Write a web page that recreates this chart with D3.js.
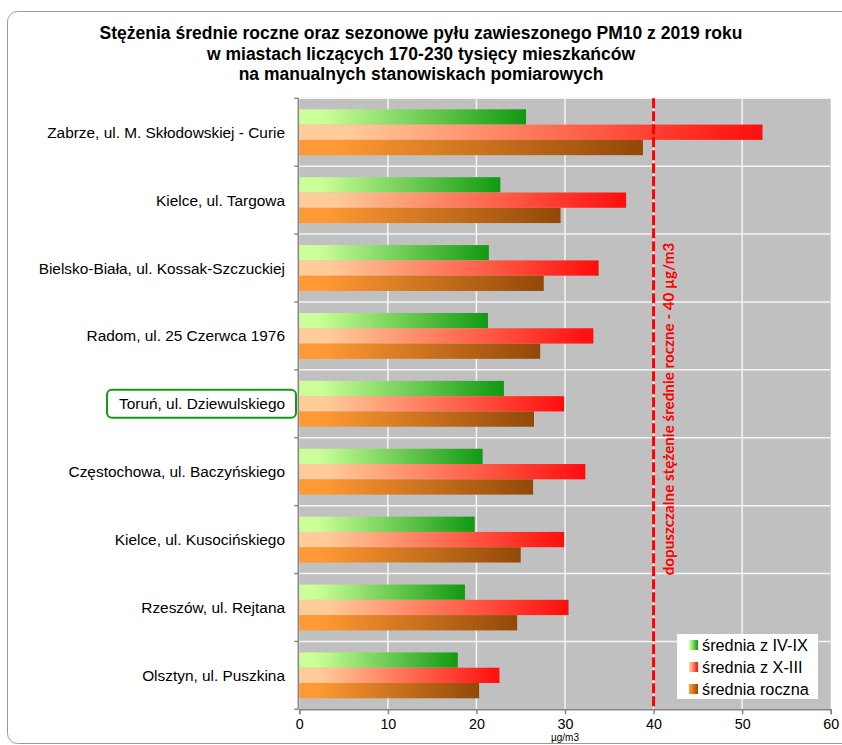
<!DOCTYPE html>
<html><head><meta charset="utf-8">
<script src="https://cdn.jsdelivr.net/npm/d3@7"></script>
<style>body{margin:0;background:#fff}svg{display:block}</style>
</head><body>
<svg id="c" width="842" height="745"></svg>
<script>
const categories = ["Zabrze, ul. M. Skłodowskiej - Curie","Kielce, ul. Targowa","Bielsko-Biała, ul. Kossak-Szczuckiej","Radom, ul. 25 Czerwca 1976","Toruń, ul. Dziewulskiego","Częstochowa, ul. Baczyńskiego","Kielce, ul. Kusocińskiego","Rzeszów, ul. Rejtana","Olsztyn, ul. Puszkina"];
const seriesNames = ["średnia z IV-IX","średnia z X-III","średnia roczna"];
const summerAvg = [25.6, 22.7, 21.4, 21.3, 23.1, 20.7, 19.8, 18.7, 17.9];
const winterAvg = [52.3, 36.9, 33.8, 33.2, 29.9, 32.3, 29.9, 30.4, 22.6];
const annualAvg = [38.8, 29.5, 27.6, 27.2, 26.5, 26.4, 25.0, 24.6, 20.3];
const xTicks = [0, 10, 20, 30, 40, 50, 60];
const limitValue = 40;
const highlighted = "Toruń, ul. Dziewulskiego";
const titleLines = ["Stężenia średnie roczne oraz sezonowe pyłu zawieszonego PM10 z 2019 roku","w miastach liczących 170-230 tysięcy mieszkańców","na manualnych stanowiskach pomiarowych"];
const limitLabel = "dopuszczalne stężenie średnie roczne - 40 µg/m3";
const axisTitle = "µg/m3";

const svg = d3.select("#c");
const font = "'Liberation Sans', Arial, sans-serif";
const L = 299.3, R = 830.7, T = 98.3, B = 709.3;

// outer frame
svg.append("rect").attr("x",7.5).attr("y",11.5).attr("width",900).attr("height",732)
  .attr("rx",10).attr("fill","#fff").attr("stroke","#9a9a9a").attr("stroke-width",1);

const x = d3.scaleLinear().domain([0,60]).range([L,R]);
const y0 = d3.scaleBand().domain(categories).range([T,B]).padding(0);
const y1 = d3.scaleBand().domain(seriesNames).range([0,y0.bandwidth()]).paddingInner(0).paddingOuter(0.72);

const gradStops = [
  ["#ccff99","#119911"],
  ["#ffcc99","#ff0d0d"],
  ["#ff9933","#924808"]
];
const defs = svg.append("defs");
gradStops.forEach((g,i)=>{
  const lg = defs.append("linearGradient").attr("id","g"+i).attr("x1","0").attr("x2","1").attr("y1","0").attr("y2","0");
  lg.append("stop").attr("offset","0").attr("stop-color",g[0]);
  lg.append("stop").attr("offset","0.1").attr("stop-color",g[0]);
  lg.append("stop").attr("offset","1").attr("stop-color",g[1]);
});

// plot bg
svg.append("rect").attr("x",L).attr("y",T).attr("width",R-L).attr("height",B-T).attr("fill","#c0c0c0");

// vertical gridlines
svg.append("g").selectAll("line").data(xTicks.filter(d=>d>0&&d<60)).join("line")
  .attr("x1",d=>x(d)).attr("x2",d=>x(d)).attr("y1",T).attr("y2",B)
  .attr("stroke","#f4f4f4").attr("stroke-width",1.5);
// horizontal gridlines at category boundaries
const bounds = categories.map(c=>y0(c));
svg.append("g").selectAll("line").data(bounds).join("line")
  .attr("x1",L).attr("x2",R).attr("y1",d=>d).attr("y2",d=>d)
  .attr("stroke","#f4f4f4").attr("stroke-width",1.5);

// bars
const seriesData = [summerAvg, winterAvg, annualAvg];
seriesData.forEach((vals,si)=>{
  svg.append("g").selectAll("rect").data(vals).join("rect")
    .attr("x",x(0))
    .attr("y",(d,i)=>y0(categories[i])+y1(seriesNames[si]))
    .attr("width",d=>x(d)-x(0))
    .attr("height",y1.bandwidth())
    .attr("fill","url(#g"+si+")");
});

// limit line
svg.append("line").attr("x1",x(limitValue)).attr("x2",x(limitValue)).attr("y1",T).attr("y2",B)
  .attr("stroke","#ff0000").attr("stroke-width",3).attr("stroke-dasharray","10,3");
svg.append("text").attr("transform",`translate(${x(limitValue)+14.5},409) rotate(-90)`)
  .attr("text-anchor","middle").attr("dominant-baseline","central")
  .attr("font-family","Lato, 'Open Sans', sans-serif").attr("font-weight","bold").attr("font-size",15.2)
  .attr("fill","#ff0000").text(limitLabel);

// left axis
const yAxisG = svg.append("g");
yAxisG.append("line").attr("x1",L-1).attr("x2",L-1).attr("y1",T).attr("y2",B).attr("stroke","#868686").attr("stroke-width",1.5);
yAxisG.selectAll("line.t").data(bounds.concat([B])).join("line").attr("class","t")
  .attr("x1",L-5).attr("x2",L-1).attr("y1",d=>d).attr("y2",d=>d).attr("stroke","#868686").attr("stroke-width",1.5);
yAxisG.selectAll("text").data(categories).join("text")
  .attr("x",285).attr("y",d=>y0(d)+y0.bandwidth()/2).attr("dominant-baseline","central")
  .attr("text-anchor","end").attr("font-family",font).attr("font-size",15.4).attr("fill","#000").text(d=>d);

// highlight box
const hb = y0(highlighted)+y0.bandwidth()/2;
svg.append("rect").attr("x",107).attr("y",hb-14).attr("width",189).attr("height",28).attr("rx",5)
  .attr("fill","none").attr("stroke","#169a16").attr("stroke-width",2);

// bottom axis
const xAxis = d3.axisBottom(x).tickValues(xTicks).tickSize(5).tickPadding(5).tickFormat(d3.format("d"));
const xg = svg.append("g").attr("transform",`translate(0,${B})`).call(xAxis);
xg.select(".domain").attr("stroke","#868686").attr("stroke-width",1.5);
xg.selectAll(".tick line").attr("stroke","#868686").attr("stroke-width",1.5);
xg.selectAll(".tick text").attr("font-family",font).attr("font-size",14.3).attr("fill","#000");

svg.append("text").attr("x",565).attr("y",741).attr("text-anchor","middle")
  .attr("font-family",font).attr("font-size",10).attr("fill","#000").text(axisTitle);

// title
svg.append("g").selectAll("text").data(titleLines).join("text")
  .attr("x",421).attr("y",(d,i)=>39+i*20.5).attr("text-anchor","middle")
  .attr("font-family",font).attr("font-weight","bold").attr("font-size",17.5).attr("fill","#000").text(d=>d);

// legend
const lg = svg.append("g");
lg.append("rect").attr("x",677).attr("y",634).attr("width",141).attr("height",65).attr("fill","#fff");
const ly = d3.scalePoint().domain(seriesNames).range([645,689]);
seriesNames.forEach((s,i)=>{
  lg.append("rect").attr("x",689).attr("y",ly(s)-5).attr("width",9).attr("height",10).attr("fill","url(#g"+i+")");
  lg.append("text").attr("x",702).attr("y",ly(s)).attr("dominant-baseline","central")
    .attr("font-family",font).attr("font-size",16.3).attr("fill","#000").text(s);
});
</script>
</body></html>
